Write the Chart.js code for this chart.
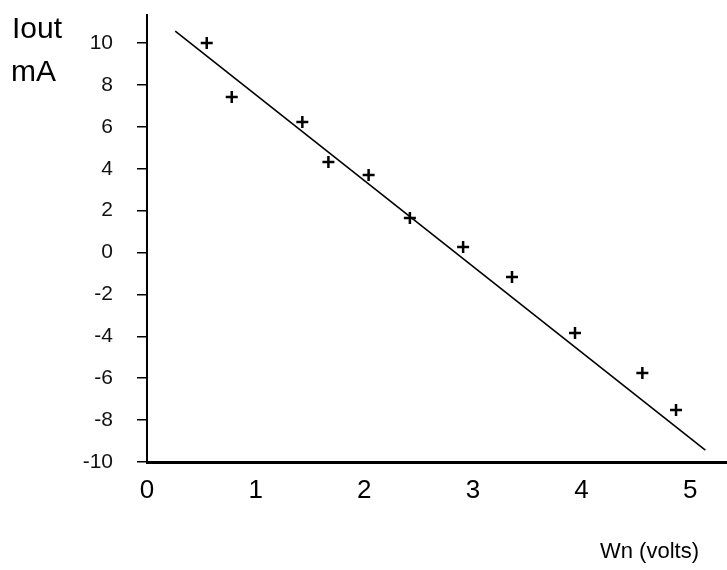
<!DOCTYPE html>
<html>
<head>
<meta charset="utf-8">
<script src="https://cdn.jsdelivr.net/npm/chart.js@4"></script>
<style>
  body { margin: 0; background: #fff; }
  canvas { display: block; }
</style>
</head>
<body>
<canvas id="ivChart" width="727" height="570"></canvas>
<script>
// measured points (Wn volts, Iout mA)
const wnVolts = [0.55, 0.78, 1.43, 1.67, 2.04, 2.42, 2.91, 3.36, 3.94, 4.56, 4.87];
const ioutMa = [10.0, 7.42, 6.23, 4.32, 3.70, 1.65, 0.26, -1.17, -3.84, -5.75, -7.52];

// hand-drawn best fit line end points
const fitX = [0.26, 5.14];
const fitY = [10.57, -9.43];

const xTicks = [0, 1, 2, 3, 4, 5];
const yTicks = [-10, -8, -6, -4, -2, 0, 2, 4, 6, 8, 10];

const axisTitles = {
  id: 'axisTitles',
  afterDraw(chart) {
    const c = chart.ctx;
    c.save();
    c.fillStyle = '#000';
    c.textBaseline = 'alphabetic';
    c.textAlign = 'left';
    c.font = '30px "Liberation Sans", Arial, sans-serif';
    c.fillText('Iout', 12, 38);
    c.fillText('mA', 11, 81);
    c.font = '22px "Liberation Sans", Arial, sans-serif';
    c.fillText('Wn (volts)', 600, 558);
    c.restore();
  }
};

// drop the label padding chart.js adds, so the plot area sits where the paper one does
const noPad = s => { s.paddingTop = 0; s.paddingBottom = 0; s.paddingLeft = 0; s.paddingRight = 0; };

const ctx = document.getElementById('ivChart').getContext('2d');
const ivChart = new Chart(ctx, {
  type: 'scatter',
  data: {
    datasets: [
      {
        label: 'measured',
        data: wnVolts.map((x, i) => ({ x: x, y: ioutMa[i] })),
        pointStyle: 'cross',
        pointRadius: 6,
        pointBorderWidth: 2.5,
        borderColor: '#000',
        backgroundColor: '#000',
      },
      {
        label: 'fit',
        type: 'line',
        data: fitX.map((x, i) => ({ x: x, y: fitY[i] })),
        borderColor: '#000',
        borderWidth: 1.6,
        pointRadius: 0,
        fill: false,
      },
    ],
  },
  options: {
    responsive: false,
    animation: false,
    layout: { autoPadding: false, padding: { top: 15, right: 1, left: 0, bottom: 0 } },
    plugins: {
      legend: { display: false },
      tooltip: { enabled: false },
    },
    scales: {
      x: {
        type: 'linear',
        min: 0,
        max: 5.33,
        afterBuildTicks: s => { s.ticks = xTicks.map(v => ({ value: v })); },
        afterFit: s => { s.height = 108; noPad(s); },
        grid: { display: false },
        border: { display: true, color: '#000', width: 3 },
        ticks: {
          color: '#000',
          padding: 5,
          maxRotation: 0,
          font: { family: '"Liberation Sans", Arial, sans-serif', size: 26 },
        },
      },
      y: {
        min: -10,
        max: 11.34,
        afterBuildTicks: s => { s.ticks = yTicks.map(v => ({ value: v })); },
        afterFit: s => { s.width = 147; noPad(s); },
        grid: { drawOnChartArea: false, drawTicks: true, tickLength: 10, color: '#000', lineWidth: 1.5 },
        border: { display: true, color: '#000', width: 2 },
        ticks: {
          color: '#111',
          padding: 24,
          font: { family: '"Liberation Sans", Arial, sans-serif', size: 21 },
        },
      },
    },
  },
  plugins: [axisTitles],
});
</script>
</body>
</html>
